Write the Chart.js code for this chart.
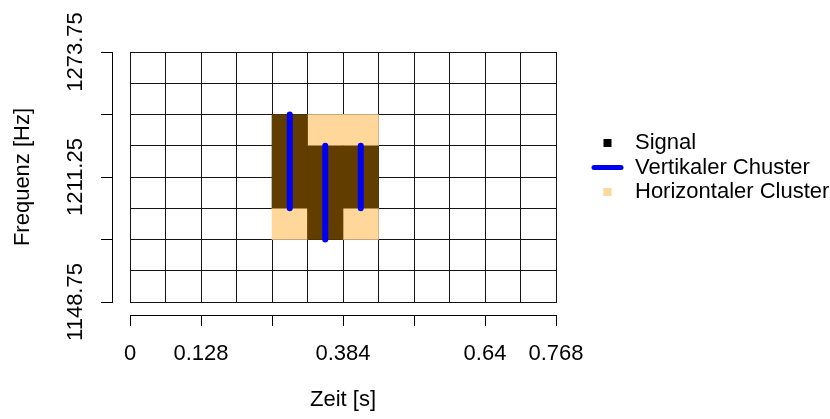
<!DOCTYPE html>
<html>
<head>
<meta charset="utf-8">
<script src="https://cdn.jsdelivr.net/npm/chart.js@4.4.1/dist/chart.umd.min.js"></script>
<style>
html,body{margin:0;padding:0;background:#fff;}
#wrap{width:830px;height:419px;position:relative;}
</style>
</head>
<body>
<div id="wrap"><canvas id="c" width="830" height="419"></canvas></div>
<script>
// ---- data ----
const timeRange = [0, 0.768];
const timeBin = 0.064;
const freqRange = [1148.75, 1273.75];
const freqBin = 15.625;
const xTickStep = 0.128;
const yTickStep = 31.25;
const xTickLabels = ['0', '0.128', '', '0.384', '', '0.64', '0.768'];
const yTickLabels = ['1148.75', '', '1211.25', '', '1273.75'];

const signalTime = [0.288, 0.352, 0.416];
const signalFreqLow = [1195.625, 1180, 1195.625];
const signalFreqHigh = [1242.5, 1226.875, 1226.875];

const hClusterTime = [0.288, 0.352, 0.416, 0.416];
const hClusterFreqLow = [1180, 1226.875, 1180, 1226.875];
const hClusterFreqHigh = [1195.625, 1242.5, 1195.625, 1242.5];

const vClusterTime = [0.288, 0.352, 0.416];
const vClusterFreqLow = [1195.625, 1180, 1195.625];
const vClusterFreqHigh = [1242.5, 1226.875, 1226.875];

const legendLabels = ['Signal', 'Vertikaler Chuster', 'Horizontaler Cluster'];
const xTitle = 'Zeit [s]';
const yTitle = 'Frequenz [Hz]';

// ---- styles ----
const FAMILY = "'Liberation Sans', Arial, sans-serif";
const FSIZE = 22;
const BROWN = '#623D00';
const PALE = '#FFD79A';
const BLUE = '#0000F0';
const GRID = '#141414';

const signalData = signalTime.map((t, i) => ({x: t, y: [signalFreqLow[i], signalFreqHigh[i]]}));
const hData = hClusterTime.map((t, i) => ({x: t, y: [hClusterFreqLow[i], hClusterFreqHigh[i]]}));
const vData = [];
vClusterTime.forEach((t, i) => {
  vData.push({x: t, y: vClusterFreqLow[i]});
  vData.push({x: t, y: vClusterFreqHigh[i]});
  vData.push({x: t, y: null});
});

Chart.defaults.font.family = FAMILY;
Chart.defaults.font.size = FSIZE;
Chart.defaults.color = '#000';

const legendPlugin = {
  id: 'rlegend',
  afterDraw(chart) {
    const ctx = chart.ctx;
    ctx.save();
    ctx.font = FSIZE + 'px ' + FAMILY;
    ctx.textAlign = 'left';
    ctx.textBaseline = 'middle';
    const mx = 607.5, tx = 635, y0 = 143, dy = 24.5;
    // Signal
    let y = y0;
    ctx.fillStyle = '#000';
    ctx.fillRect(mx - 4, y - 4, 8, 8);
    ctx.fillText(legendLabels[0], tx, y);
    // Vertikaler
    y = y0 + dy;
    ctx.strokeStyle = BLUE;
    ctx.lineWidth = 5;
    ctx.lineCap = 'round';
    ctx.beginPath(); ctx.moveTo(mx - 13.5, y); ctx.lineTo(mx + 13.5, y); ctx.stroke();
    ctx.fillStyle = '#000';
    ctx.fillText(legendLabels[1], tx, y);
    // Horizontaler
    y = y0 + 2 * dy;
    ctx.fillStyle = PALE;
    ctx.fillRect(mx - 4, y - 4, 8, 8);
    ctx.fillStyle = '#000';
    ctx.fillText(legendLabels[2], tx, y);
    ctx.restore();
  }
};

new Chart(document.getElementById('c'), {
  type: 'bar',
  data: {
    datasets: [
      {type: 'line', label: legendLabels[1], data: vData, borderColor: BLUE, borderWidth: 6,
       borderCapStyle: 'round', pointRadius: 0, spanGaps: false, fill: false, tension: 0, order: 0},
      {type: 'bar', label: legendLabels[0], data: signalData, backgroundColor: BROWN, grouped: false,
       barPercentage: 1, categoryPercentage: 1, borderWidth: 0, order: 1},
      {type: 'bar', label: legendLabels[2], data: hData, backgroundColor: PALE, grouped: false,
       barPercentage: 1, categoryPercentage: 1, borderWidth: 0, order: 2}
    ]
  },
  options: {
    responsive: false,
    animation: false,
    events: [],
    layout: {padding: {left: 0, top: 52, right: 274, bottom: 0}},
    plugins: {legend: {display: false}, tooltip: {enabled: false}},
    scales: {
      x: {type: 'linear', position: 'bottom', weight: 0, min: timeRange[0], max: timeRange[1], offset: false,
          ticks: {display: false, stepSize: timeBin, autoSkip: false},
          grid: {offset: false, color: GRID, lineWidth: 1, drawTicks: true, tickLength: 13, tickColor: 'rgba(0,0,0,0)'},
          border: {display: true, color: GRID, width: 1}},
      x2: {type: 'linear', position: 'bottom', weight: 1, min: timeRange[0], max: timeRange[1], offset: false,
          ticks: {stepSize: xTickStep, autoSkip: false, minRotation: 0, maxRotation: 0, padding: 15,
                  callback: (v, i) => xTickLabels[i]},
          grid: {drawOnChartArea: false, offset: false, drawTicks: true, tickLength: 11, tickColor: '#000', color: '#000', lineWidth: 1},
          border: {display: true, color: '#000', width: 1},
          title: {display: true, text: xTitle, padding: {top: 0, bottom: 6}},
          afterFit: (s) => { s.height = 104; }},
      y: {type: 'linear', position: 'left', weight: 0, min: freqRange[0], max: freqRange[1],
          ticks: {display: false, stepSize: freqBin, autoSkip: false},
          grid: {color: GRID, lineWidth: 1, drawTicks: true, tickLength: 18, tickColor: 'rgba(0,0,0,0)'},
          border: {display: true, color: GRID, width: 1}},
      y2: {type: 'linear', position: 'left', weight: 1, min: freqRange[0], max: freqRange[1],
          ticks: {stepSize: yTickStep, autoSkip: false, minRotation: 90, maxRotation: 90, crossAlign: 'center', padding: -15,
                  callback: (v, i) => yTickLabels[i]},
          grid: {drawOnChartArea: false, drawTicks: true, tickLength: 11, tickColor: '#000', color: '#000', lineWidth: 1},
          border: {display: true, color: '#000', width: 1},
          title: {display: true, text: yTitle, padding: {top: 10, bottom: 0}},
          afterFit: (s) => { s.width = 112; }}
    }
  },
  plugins: [legendPlugin]
});
</script>
</body>
</html>
